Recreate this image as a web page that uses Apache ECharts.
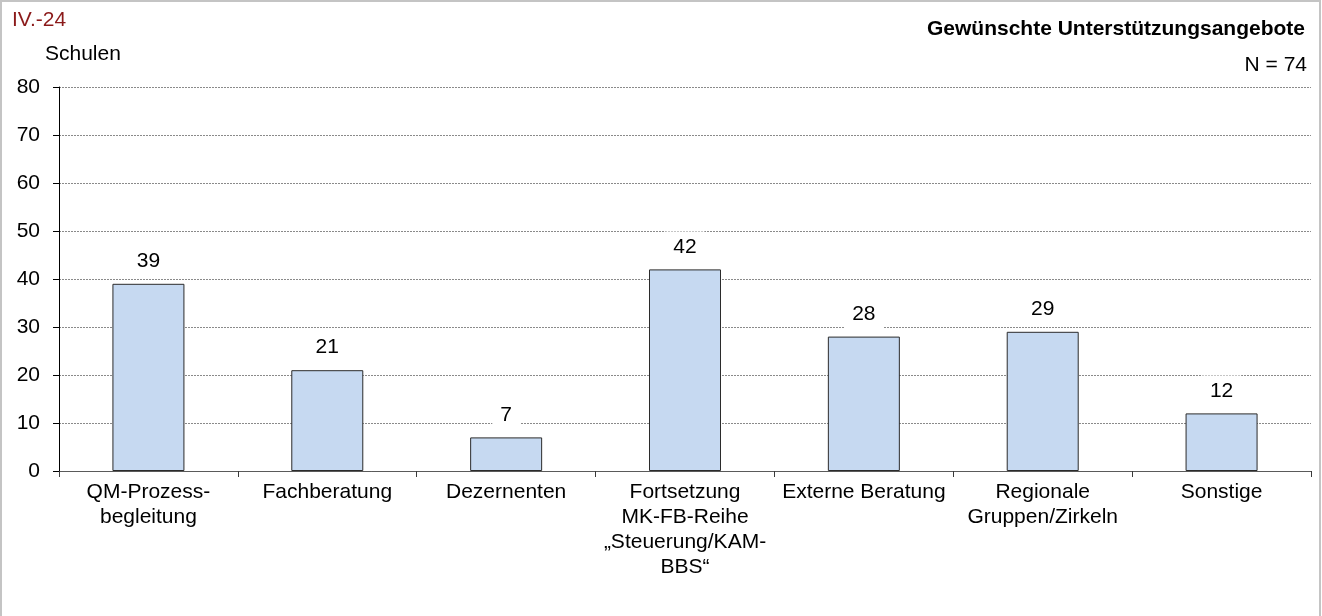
<!DOCTYPE html>
<html>
<head>
<meta charset="utf-8">
<script src="https://cdn.jsdelivr.net/npm/echarts@6/dist/echarts.min.js"></script>
<style>
  html, body { margin: 0; padding: 0; background: #fff; }
  #chart { width: 1322px; height: 616px; }
</style>
</head>
<body>
<div id="chart"></div>
<script>
// Gewünschte Unterstützungsangebote – Anzahl Schulen je Angebot
const categories = [
  'QM-Prozess-\nbegleitung',
  'Fachberatung',
  'Dezernenten',
  'Fortsetzung\nMK-FB-Reihe\n\u201ESteuerung/KAM-\nBBS\u201C',
  'Externe Beratung',
  'Regionale\nGruppen/Zirkeln',
  'Sonstige'
];
const schulen = [39, 21, 7, 42, 28, 29, 12];
const yTicks = { min: 0, max: 80, interval: 10 };

const FONT = '"Liberation Sans", Arial, sans-serif';
const FS = 21;

const chart = echarts.init(document.getElementById('chart'), null, { renderer: 'canvas' });

chart.setOption({
  backgroundColor: '#ffffff',
  animation: false,
  textStyle: { fontFamily: FONT },
  grid: { left: 59, right: 11, top: 87, bottom: 145, containLabel: false },
  graphic: [
    {
      type: 'rect',
      silent: true,
      shape: { x: 1, y: 1, width: 1319, height: 700 },
      style: { fill: 'none', stroke: '#c4c4c4', lineWidth: 2 }
    },
    {
      type: 'text', left: 12, top: 10,
      style: { text: 'IV.-24', fill: '#8b1a1a', font: FS + 'px ' + FONT }
    },
    {
      type: 'text', left: 45, top: 44,
      style: { text: 'Schulen', fill: '#000', font: FS + 'px ' + FONT }
    },
    {
      type: 'text', right: 17, top: 19,
      style: { text: 'Gewünschte Unterstützungsangebote', fill: '#000', font: 'bold ' + FS + 'px ' + FONT, align: 'right' }
    },
    {
      type: 'text', right: 15, top: 55,
      style: { text: 'N = 74', fill: '#000', font: FS + 'px ' + FONT, align: 'right' }
    }
  ],
  xAxis: {
    type: 'category',
    data: categories,
    boundaryGap: true,
    axisLine: { show: true, lineStyle: { color: '#5a5a5a', width: 1 } },
    axisTick: { show: true, alignWithLabel: false, length: 6, inside: false, lineStyle: { color: '#3a3a3a' } },
    axisLabel: {
      interval: 0,
      margin: 9,
      color: '#000',
      fontSize: FS,
      lineHeight: 25,
      fontFamily: FONT,
      align: 'center'
    },
    splitLine: { show: false }
  },
  yAxis: {
    type: 'value',
    min: yTicks.min,
    max: yTicks.max,
    interval: yTicks.interval,
    axisLine: { show: true, lineStyle: { color: '#000', width: 1 } },
    axisTick: { show: true, length: 6, lineStyle: { color: '#000' } },
    axisLabel: { color: '#000', fontSize: FS, fontFamily: FONT, margin: 19 },
    splitLine: { show: true, lineStyle: { color: '#8a8a8a', type: [2, 1], width: 1 } }
  },
  series: [
    {
      type: 'bar',
      data: schulen,
      barWidth: 72,
      itemStyle: { color: '#c6d9f1', borderColor: '#2b2b2b', borderWidth: 1 },
      label: {
        show: true,
        position: 'top',
        distance: 7,
        color: '#000',
        fontSize: FS,
        fontFamily: FONT,
        lineHeight: 21,
        backgroundColor: '#ffffff',
        padding: [5, 8]
      }
    }
  ]
});
</script>
</body>
</html>
